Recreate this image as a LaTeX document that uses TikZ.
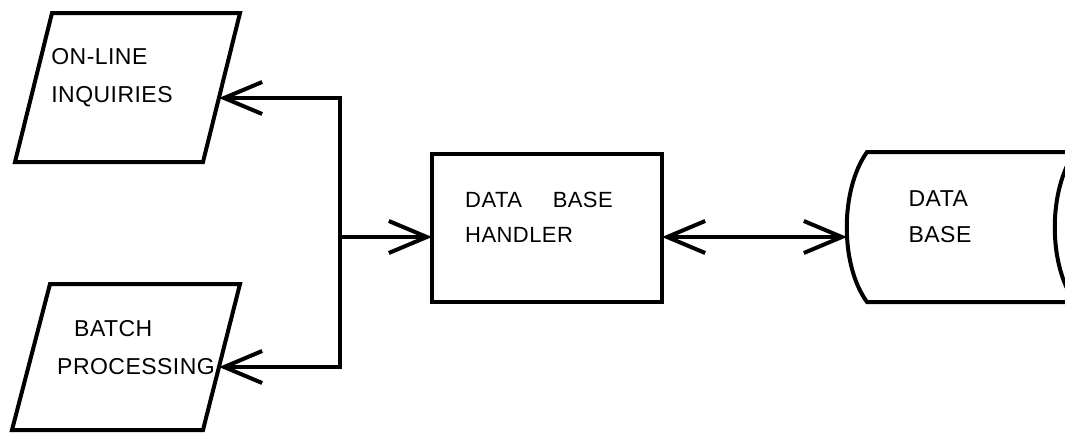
\documentclass[tikz,border=0pt]{standalone}
\usepackage{fontspec}
\setsansfont{Liberation Sans}[LetterSpace=2.0]
\usetikzlibrary{arrows.meta}

\tikzset{
  outline/.style={line width=4pt, line join=miter},
  handler/.style={draw, outline, rectangle, outer sep=0pt, inner sep=0pt,
    minimum width=230pt, minimum height=148pt},
  lbl/.style={align=left, inner sep=0pt, font=\sffamily\fontsize{22}{35}\selectfont},
  lblbig/.style={lbl, font=\sffamily\fontsize{23}{38}\selectfont},
  barb/.tip={Straight Barb[length=38pt,width=32pt]},
  flow/.style={outline, -barb},
  twoway/.style={outline, barb-barb},
}

\begin{document}
\begin{tikzpicture}[x=1pt, y=-1pt]
  \useasboundingbox (0,0) rectangle (1065,432);
  \clip (0,0) rectangle (1065,432);

  %% input / output parallelograms
  \draw[outline] (52,13) -- (240,13) -- (203,162) -- (15,162) -- cycle;
  \coordinate (inq) at (219,98);
  \node[lblbig] (inqtxt) at (112,78) {ON-LINE\\INQUIRIES};
  \draw[outline] (50,284) -- (240,284) -- (203,430) -- (12,430) -- cycle;
  \coordinate (bat) at (219,367);
  \node[lblbig] (battxt) at (136,348) {\hspace*{17pt}BATCH\\PROCESSING};

  %% handler box
  \node[handler] (hdl) at (547,228) {};
  \node[lbl] (hdltxt) at ([shift={(-8pt,11pt)}]hdl.center) {DATA\hspace{1.4em}BASE\\HANDLER};

  %% data base (storage shape, runs off the right edge)
  \draw[outline] (1100,152) -- (867,152)
       .. controls (840,190) and (840,265) .. (867,302) -- (1100,302);
  \draw[outline] (1075,152) .. controls (1048,190) and (1048,265) .. (1075,302);
  \coordinate (db) at (847,237);
  \node[lblbig, font=\sffamily\fontsize{23}{36}\selectfont] (dbtxt) at (940,217) {DATA\\BASE};

  %% connectors
  \coordinate (jn) at (340,237);
  \draw[flow] (jn) |- (inq);
  \draw[flow] (jn) |- (bat);
  \draw[flow] (jn) -- ([yshift=-9pt]hdl.west);
  \draw[twoway] ([yshift=-9pt]hdl.east) -- (db);
\end{tikzpicture}
\end{document}
